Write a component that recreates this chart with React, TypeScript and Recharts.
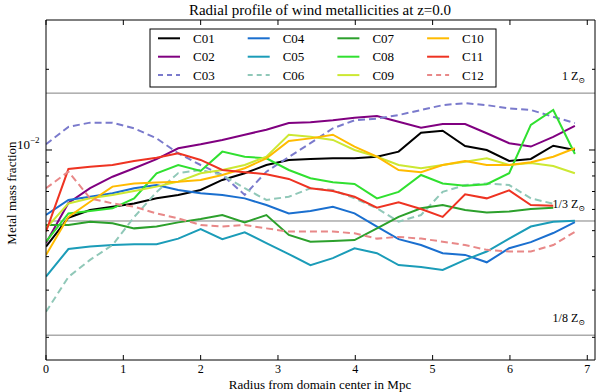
import React from 'react';
import { LineChart, Line, XAxis, YAxis, ReferenceLine } from 'recharts';

// Radius bins (Mpc)
const radius = [0, 0.29, 0.57, 0.86, 1.14, 1.43, 1.71, 2.0, 2.28, 2.57, 2.85, 3.14, 3.42, 3.71, 3.99, 4.28, 4.56, 4.85, 5.13, 5.42, 5.7, 5.99, 6.27, 6.56, 6.84];

// Metal mass fraction, in units of 1e-3
const c01 = [4.36, 5.59, 5.97, 6.14, 6.32, 6.61, 6.79, 7.09, 7.73, 8.19, 8.79, 9.18, 9.26, 9.31, 9.31, 9.44, 9.86, 11.6, 11.8, 10.35, 10.0, 9.1, 9.26, 10.37, 10.0];
const c02 = [4.5, 6.34, 7.2, 7.95, 8.55, 9.25, 10.15, 10.5, 10.9, 11.4, 11.9, 12.6, 12.7, 12.9, 13.2, 13.4, 12.75, 12.1, 12.5, 12.5, 11.55, 10.6, 10.3, 11.2, 12.3];
const c03 = [10.5, 12.2, 12.65, 12.65, 12.05, 11.05, 9.72, 8.79, 8.07, 6.8, 8.3, 9.42, 10.6, 12.05, 12.9, 13.1, 13.5, 14.1, 14.7, 14.95, 14.7, 14.3, 14.1, 13.3, 12.6];
const c04 = [5.72, 6.51, 6.69, 6.9, 7.2, 7.4, 7.09, 6.9, 6.79, 6.6, 6.23, 5.8, 5.92, 6.14, 5.8, 5.18, 4.65, 4.42, 4.12, 4.06, 3.81, 4.3, 4.53, 4.9, 5.38];
const c05 = [3.37, 4.27, 4.36, 4.42, 4.45, 4.45, 4.67, 5.07, 4.65, 4.93, 4.49, 4.09, 3.72, 3.95, 4.3, 4.12, 3.72, 3.66, 3.57, 3.89, 4.18, 4.67, 5.18, 5.4, 5.45];
const c06 = [2.49, 3.36, 3.89, 4.42, 5.62, 6.97, 8.2, 8.42, 8.07, 7.2, 6.51, 6.69, 7.2, 7.09, 6.6, 6.06, 5.4, 5.72, 6.98, 7.4, 7.5, 7.4, 6.6, 6.3, null];
const c07 = [5.25, 5.25, 5.4, 5.33, 5.1, 5.18, 5.37, 5.53, 5.72, 5.37, 5.72, 4.82, 4.55, 4.58, 4.61, 5.1, 5.63, 6.06, 6.23, 5.97, 5.85, 5.9, 6.02, 6.09, null];
const c08 = [4.55, 5.8, 5.92, 6.06, 6.6, 8.19, 8.79, 8.35, 9.86, 9.44, 9.31, 8.42, 7.85, 7.58, 7.47, 6.6, 6.98, 8.07, 7.5, 7.35, 7.45, 8.19, 12.4, 14.1, 9.66];
const c09 = [5.1, 6.32, 6.6, 6.79, 7.03, 7.3, 7.62, 8.19, 8.42, 8.79, 9.44, 11.4, 11.2, 10.9, 10.0, 9.44, 8.79, 8.55, 8.79, 9.04, 9.31, 8.79, 8.95, 8.71, 8.19];
const c10 = [4.06, 5.63, 6.41, 7.3, 7.5, 7.56, 7.62, 7.73, 8.07, 8.55, 9.31, 10.8, 11.05, 11.4, 10.3, 9.44, 8.42, 8.26, 8.79, 9.1, 8.79, 8.79, 9.0, 9.44, 10.15];
const c11 = [4.96, 8.49, 8.66, 8.79, 9.1, 9.36, 9.72, 9.18, 8.42, 8.26, 8.12, 7.8, 7.2, 7.03, 6.69, 6.09, 6.38, 6.02, 5.63, 6.83, 6.6, 7.07, 6.23, 6.2, null];
const c12 = [7.2, 8.3, 6.6, 6.32, 6.14, 5.8, 5.56, 5.25, 5.18, 5.25, 5.1, 4.96, 4.96, 4.96, 4.89, 4.67, 4.74, 4.67, 4.55, 4.42, 4.24, 4.18, 4.18, 4.42, 4.95];

const seriesNames = ['C01', 'C02', 'C03', 'C04', 'C05', 'C06', 'C07', 'C08', 'C09', 'C10', 'C11', 'C12'];
const seriesValues = [c01, c02, c03, c04, c05, c06, c07, c08, c09, c10, c11, c12];
const seriesColors = ['#000000', '#800080', '#7a7acc', '#1a6fcf', '#1b9cb8', '#90c8b8', '#2ca02c', '#30e030', '#cce833', '#ffbb00', '#ee3322', '#e88888'];
const seriesDashed = [false, false, true, false, false, true, false, false, false, false, false, true];

const xTicks = [0, 1, 2, 3, 4, 5, 6, 7];
const yTicks = [0.002, 0.003, 0.004, 0.005, 0.006, 0.007, 0.008, 0.009, 0.01, 0.02];
const yMajor = [0.01];
const xDomain = [0, 7.1];
const yDomain = [0.001646, 0.03055];
const solarZ = 0.0163;
const zLines = [
  { frac: 1, label: '1' },
  { frac: 1 / 3, label: '1/3' },
  { frac: 1 / 8, label: '1/8' },
];

const table = radius.map((r, i) => {
  const row: any = { r };
  seriesNames.forEach((n, k) => {
    const v = seriesValues[k][i];
    row[n] = v == null ? null : v / 1000;
  });
  return row;
});

const FONT = '"Liberation Serif", "DejaVu Serif", serif';

const BottomTick = (p: any) => (
  <g>
    <line x1={p.x} x2={p.x} y1={p.y} y2={p.y - 5} stroke="#000" strokeWidth={1} />
    <text x={p.x} y={p.y + 13} textAnchor="middle" fontSize={12} fontFamily={FONT} fill="#000">
      {p.payload.value}
    </text>
  </g>
);
const TopTick = (p: any) => <line x1={p.x} x2={p.x} y1={p.y} y2={p.y + 5} stroke="#000" strokeWidth={1} />;
const LeftTick = (p: any) => {
  const major = yMajor.includes(p.payload.value);
  return (
    <g>
      <line x1={p.x} x2={p.x + (major ? 6 : 3)} y1={p.y} y2={p.y} stroke="#000" strokeWidth={1} />
      {major && (
        <text x={p.x - 29} y={p.y - 1} textAnchor="start" fontSize={13} fontFamily={FONT} fill="#000">
          10
          <tspan dy={-6} fontSize={9}>−2</tspan>
        </text>
      )}
    </g>
  );
};
const RightTick = (p: any) => {
  const major = yMajor.includes(p.payload.value);
  return <line x1={p.x} x2={p.x - (major ? 6 : 3)} y1={p.y} y2={p.y} stroke="#000" strokeWidth={1} />;
};

const zLabel = (text: string) => (p: any) => {
  const vb = p.viewBox || {};
  return (
    <text x={vb.x + vb.width - 10} y={vb.y - 13} textAnchor="end" fontSize={12} fontFamily={FONT} fill="#000">
      {text} Z
      <tspan dy={3} fontSize={8}>⊙</tspan>
    </text>
  );
};

export default function App() {
  const legendX0 = 158;
  const legendDX = 89.7;
  const legendY0 = 38.3;
  const legendDY = 18.4;
  return (
    <div style={{ position: 'absolute', left: 0, top: 0, width: 600, height: 392, background: '#fff' }}>
      <LineChart width={600} height={392} data={table} margin={{ top: 0, right: 0, bottom: 0, left: 0 }}>
        <XAxis
          dataKey="r"
          type="number"
          domain={xDomain}
          ticks={xTicks}
          interval={0}
          allowDataOverflow
          height={32}
          tickSize={0}
          tickMargin={0}
          tickLine={false}
          axisLine={{ stroke: '#000', strokeWidth: 1 }}
          tick={BottomTick}
        />
        <XAxis
          xAxisId="top"
          orientation="top"
          dataKey="r"
          type="number"
          domain={xDomain}
          ticks={xTicks}
          interval={0}
          allowDataOverflow
          height={20}
          tickSize={0}
          tickMargin={0}
          tickLine={false}
          axisLine={{ stroke: '#000', strokeWidth: 1 }}
          tick={TopTick}
        />
        <YAxis
          scale="log"
          type="number"
          domain={yDomain}
          ticks={yTicks}
          interval={0}
          allowDataOverflow
          width={46}
          tickSize={0}
          tickMargin={0}
          tickLine={false}
          axisLine={{ stroke: '#000', strokeWidth: 1 }}
          tick={LeftTick}
        />
        <YAxis
          yAxisId="right"
          orientation="right"
          scale="log"
          type="number"
          domain={yDomain}
          ticks={yTicks}
          interval={0}
          allowDataOverflow
          width={5}
          tickSize={0}
          tickMargin={0}
          tickLine={false}
          axisLine={{ stroke: '#000', strokeWidth: 1 }}
          tick={RightTick}
        />
        {zLines.map((z) => (
          <ReferenceLine
            key={z.label}
            y={solarZ * z.frac}
            stroke="#808080"
            strokeWidth={1}
            label={zLabel(z.label)}
          />
        ))}
        {seriesNames.map((n, k) => (
          <Line
            key={n}
            dataKey={n}
            type="linear"
            stroke={seriesColors[k]}
            strokeWidth={2}
            strokeDasharray={seriesDashed[k] ? '7 4' : undefined}
            dot={false}
            activeDot={false}
            connectNulls={false}
            isAnimationActive={false}
          />
        ))}
      </LineChart>
      <svg width={600} height={392} style={{ position: 'absolute', left: 0, top: 0, pointerEvents: 'none' }}>
        <text x={320} y={15} textAnchor="middle" fontSize={15} fontFamily={FONT} fill="#000">
          Radial profile of wind metallicities at z=0.0
        </text>
        <text x={320} y={389} textAnchor="middle" fontSize={13} fontFamily={FONT} fill="#000">
          Radius from domain center in Mpc
        </text>
        <text
          x={11}
          y={193}
          transform="rotate(-90, 11, 193)"
          textAnchor="middle"
          dominantBaseline="central"
          fontSize={13}
          fontFamily={FONT}
          fill="#000"
        >
          Metal mass fraction
        </text>
        <rect x={150} y={29} width={346} height={58} fill="#fff" stroke="#000" strokeWidth={1} />
        {seriesNames.map((n, k) => {
          const col = Math.floor(k / 3);
          const row = k % 3;
          const x = legendX0 + col * legendDX;
          const y = legendY0 + row * legendDY;
          return (
            <g key={n}>
              <line
                x1={x}
                x2={x + 22}
                y1={y}
                y2={y}
                stroke={seriesColors[k]}
                strokeWidth={2}
                strokeDasharray={seriesDashed[k] ? '5 4' : undefined}
              />
              <text x={x + 35} y={y + 4.5} fontSize={13} fontFamily={FONT} fill="#000">
                {n}
              </text>
            </g>
          );
        })}
      </svg>
    </div>
  );
}
